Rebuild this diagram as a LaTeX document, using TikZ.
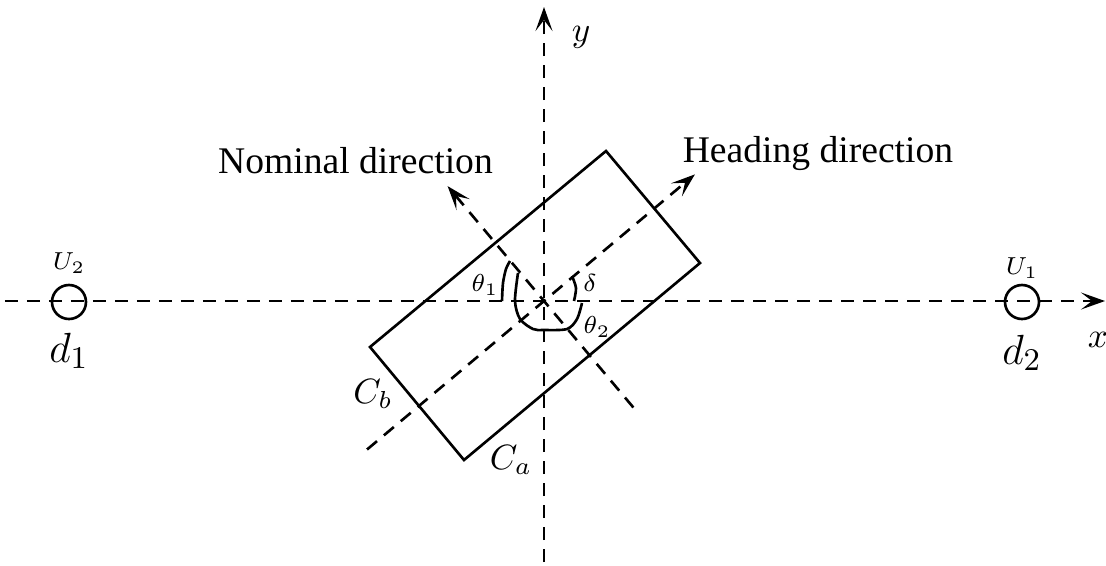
\documentclass[tikz,border=0pt]{standalone}
\usepackage{amsmath,amssymb}
\usepackage{fontspec}
\setmainfont{Liberation Serif}
\usepackage{tikz}
\usetikzlibrary{arrows.meta,calc}
\tikzset{
  axisline/.style={
    line width=0.75pt,
    dash pattern=on 1.3mm off 0.9mm,
  },
  arrowline/.style={
    axisline,
    -{Stealth[length=2.4mm,width=1.7mm,inset=1.1mm]},
  },
  body/.style={
    line width=0.75pt,
    line join=miter,
  },
  anglemark/.style={
    line width=0.75pt,
  },
  user/.style={
    shape=circle,
    draw,
    line width=0.75pt,
    minimum size=0.34cm,
    inner sep=0pt,
  },
  biglabel/.style={font=\fontsize{9.6}{11}\selectfont, inner sep=0pt},
  distlabel/.style={font=\fontsize{12.3}{14}\selectfont, inner sep=0pt},
  anglelabel/.style={font=\fontsize{7.5}{9}\selectfont, inner sep=0pt},
  userlabel/.style={font=\fontsize{7}{8}\selectfont, inner sep=0pt},
  textlabel/.style={font=\fontsize{10.7}{13}\selectfont, inner sep=0pt, anchor=base},
}

\begin{document}
\begin{tikzpicture}
    \useasboundingbox (-5.44,-2.64) rectangle (5.62,3.01);
    % axes
    \coordinate (O) at (0,0);
    \coordinate (xs) at (-5.39,0);
    \coordinate (xe) at (5.61,0);
    \coordinate (ys) at (0,-2.61);
    \coordinate (ye) at (0,2.94);
    \draw[arrowline] (xs)--(xe);
    \draw[arrowline] (ys)--(ye);
    \node[biglabel] (xlab) at (5.54,-0.39) {$x$};
    \node[biglabel] (ylab) at (0.37,2.64) {$y$};
    %
    % vehicle body
    \coordinate (ctop) at (0.62,1.50);
    \coordinate (cright) at (1.56,0.38);
    \coordinate (cbottom) at (-0.80,-1.59);
    \coordinate (cleft) at (-1.74,-0.46);
    \draw[body] (ctop)--(cright)--(cbottom)--(cleft)--cycle;
    \node[biglabel] (cb) at (-1.71,-0.93) {$C_b$};
    \node[biglabel] (ca) at (-0.33,-1.59) {$C_a$};
    %
    % heading and nominal directions
    \coordinate (hs) at (220:2.31);
    \coordinate (he) at (40:1.97);
    \coordinate (ns) at (310:1.39);
    \coordinate (ne) at (130:1.50);
    \draw[arrowline] (hs)--(he);
    \draw[arrowline] (ns)--(ne);
    \node[textlabel] (heading) at (8.18-5.44,1.39) {Heading direction};
    \node[textlabel] (nominal) at (3.555-5.44,1.28) {Nominal direction};
    %
    % angles
    \draw[anglemark] plot[smooth] coordinates {(-0.42,0) (-0.41,0.18) (-0.38,0.32) (-0.34,0.40)};
    \draw[anglemark] plot[smooth] coordinates {(0.30,0.0) (0.32,0.13) (0.28,0.25)};
    \draw[anglemark] plot[smooth] coordinates {(-0.26,0.28) (-0.29,0.0) (-0.24,-0.18) (-0.11,-0.28) (0,-0.29) (0.23,-0.28) (0.33,-0.18) (0.38,-0.02)};
    \node[anglelabel] (t1) at (-0.59,0.16) {$\theta_1$};
    \node[anglelabel] (dl) at (0.46,0.18) {$\delta$};
    \node[anglelabel] (t2) at (0.53,-0.26) {$\theta_2$};
    %
    % users
    \node[user] (u2) at (-4.75,-0.01) {};
    \node[user] (u1) at (4.78,-0.01) {};
    \node[userlabel] (u2lab) at (-4.75,0.38) {$U_2$};
    \node[userlabel] (u1lab) at (4.78,0.33) {$U_1$};
    \node[distlabel] (d1) at (-4.75,-0.50) {$d_1$};
    \node[distlabel] (d2) at (4.78,-0.52) {$d_2$};
\end{tikzpicture}
\end{document}
